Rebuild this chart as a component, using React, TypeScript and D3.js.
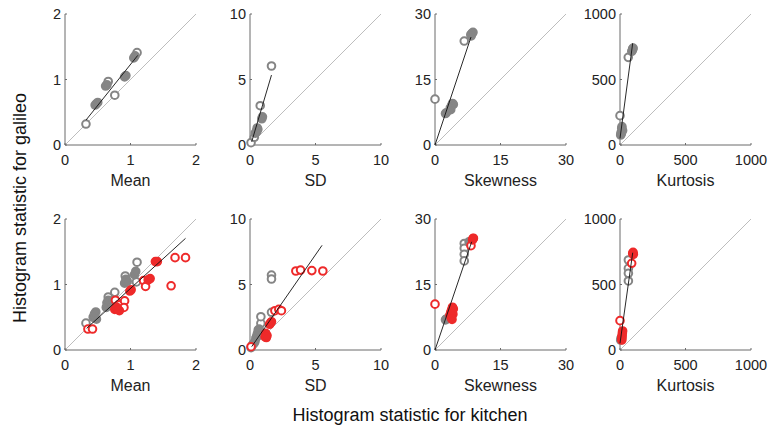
import React from "react";
import * as d3 from "d3";

// statistic names, axis maxima and ticks
const statNames = ["Mean", "SD", "Skewness", "Kurtosis"];
const maxima = [2, 10, 30, 1000];
const tickVals = [
  [0, 1, 2],
  [0, 5, 10],
  [0, 15, 30],
  [0, 500, 1000],
];

// points: [kitchen value, galileo value, filled (1) or open (0)]
type Pt = [number, number, number];

const topGray: Pt[][] = [
  [
    [0.32, 0.32, 0], [0.66, 0.97, 0], [0.76, 0.76, 0], [1.1, 1.41, 0],
    [0.46, 0.61, 1], [0.48, 0.63, 1], [0.5, 0.65, 1], [0.62, 0.9, 1], [0.64, 0.92, 1],
    [0.91, 1.04, 1], [0.93, 1.06, 1], [1.05, 1.33, 1], [1.07, 1.36, 1],
  ],
  [
    [0.08, 0.18, 0], [0.33, 0.59, 0], [0.78, 3.0, 0], [1.64, 6.03, 0],
    [0.4, 0.9, 1], [0.5, 1.1, 1], [0.55, 1.3, 1], [0.6, 1.2, 1], [0.9, 2.0, 1],
    [0.95, 2.15, 1], [0.5, 1.0, 1],
  ],
  [
    [0, 10.5, 0], [6.7, 23.8, 0],
    [2.4, 7.2, 1], [2.6, 7.4, 1], [3.5, 8.5, 1], [3.8, 9.0, 1], [4.0, 9.5, 1], [4.2, 9.3, 1],
    [3.6, 8.1, 1], [8.2, 25.3, 1], [8.5, 25.6, 1], [8.7, 25.8, 1], [8.3, 25.0, 1],
  ],
  [
    [0, 224, 0], [63, 669, 0],
    [5, 76, 1], [8, 95, 1], [13, 127, 1], [15, 140, 1], [20, 110, 1], [10, 85, 1],
    [90, 715, 1], [97, 733, 1], [100, 740, 1], [95, 725, 1],
  ],
];

const bottomGray: Pt[][] = [
  [
    [0.32, 0.41, 0], [0.66, 0.81, 0], [0.76, 0.88, 0], [0.92, 1.13, 0], [1.09, 1.04, 0], [1.1, 1.34, 0],
    [0.43, 0.5, 1], [0.45, 0.55, 1], [0.47, 0.58, 1], [0.48, 0.47, 1], [0.63, 0.65, 1],
    [0.64, 0.72, 1], [0.66, 0.76, 1], [0.7, 0.74, 1], [0.91, 1.02, 1], [0.93, 1.08, 1],
    [0.95, 1.05, 1], [1.06, 1.15, 1], [1.08, 1.2, 1],
  ],
  [
    [0.08, 0.18, 0], [0.5, 1.0, 0], [0.63, 1.53, 0], [0.83, 2.04, 0], [0.83, 2.54, 0],
    [1.64, 5.72, 0], [1.64, 5.42, 0], [1.64, 2.88, 0],
    [0.38, 0.64, 1], [0.3, 0.5, 1], [0.45, 0.9, 1], [0.55, 1.2, 1], [0.6, 1.3, 1],
    [0.7, 1.6, 1], [0.2, 0.4, 1],
  ],
  [
    [6.7, 24.4, 0], [6.7, 23.3, 0], [6.7, 21.9, 0], [6.7, 20.4, 0],
    [2.4, 6.9, 1], [2.6, 7.1, 1], [7.8, 24.8, 1],
  ],
  [
    [64, 687, 0], [64, 623, 0], [64, 585, 0], [64, 527, 0],
    [5, 76, 1], [8, 90, 1],
  ],
];

const bottomRed: Pt[][] = [
  [
    [0.35, 0.32, 0], [0.42, 0.32, 0], [0.77, 0.76, 0], [0.82, 0.69, 0], [0.91, 0.75, 0],
    [0.9, 0.65, 0], [1.2, 1.06, 0], [1.23, 0.97, 0], [1.62, 0.98, 0], [1.68, 1.41, 0], [1.84, 1.41, 0],
    [0.76, 0.62, 1], [0.78, 0.66, 1], [0.83, 0.6, 1], [0.8, 0.64, 1], [1.01, 0.92, 1],
    [0.99, 0.9, 1], [1.27, 1.07, 1], [1.3, 1.09, 1], [1.38, 1.35, 1], [1.41, 1.35, 1],
  ],
  [
    [0.08, 0.25, 0], [1.9, 3.0, 0], [2.2, 3.1, 0], [2.4, 3.0, 0], [3.5, 6.03, 0],
    [3.86, 6.1, 0], [4.72, 6.06, 0], [5.56, 6.03, 0],
    [1.15, 1.0, 1], [1.2, 1.27, 1], [1.3, 1.1, 1], [1.5, 1.96, 1], [1.64, 2.16, 1],
    [1.55, 2.05, 1], [1.25, 0.95, 1],
  ],
  [
    [0, 10.5, 0], [8.24, 23.9, 0], [8.7, 25.5, 0],
    [3.4, 8.0, 1], [3.6, 8.6, 1], [3.8, 9.2, 1], [4.0, 9.8, 1], [4.2, 9.4, 1],
    [3.7, 7.4, 1], [4.1, 8.2, 1], [3.9, 7.0, 1], [8.6, 25.2, 1], [8.8, 25.6, 1],
  ],
  [
    [0, 224, 0], [89, 662, 0], [100, 745, 0],
    [13, 85, 1], [15, 100, 1], [18, 130, 1], [20, 145, 1], [16, 110, 1], [14, 76, 1],
    [97, 738, 1], [102, 730, 1],
  ],
];

// fit lines: [x start, x end, slope, intercept]
const topFits = [
  [0.32, 1.11, 1.25, -0.02],
  [0.13, 1.64, 3.37, -0.19],
  [0, 8.24, 3.0, 0],
  [0, 97, 7.5, 50],
];
const bottomFits = [
  [0.33, 1.84, 0.91, 0.03],
  [0.13, 5.5, 1.44, 0.07],
  [0, 8.4, 2.95, 0],
  [0, 97, 7.13, 51],
];

const W = 773;
const H = 433;
const panelLeft = [65, 250, 435, 620];
const panelSize = 131;
const rowBottom = [145, 350];
const GRAY = "#858585";
const RED = "#ee2a2a";
const FONT = "'Liberation Sans', Arial, Helvetica, sans-serif";

const Panel = ({ col, row, groups, fit }: { col: number; row: number; groups: { pts: Pt[]; color: string }[]; fit: number[] }) => {
  const max = maxima[col];
  const x0 = panelLeft[col];
  const y0 = rowBottom[row];
  const x = d3.scaleLinear().domain([0, max]).range([x0, x0 + panelSize]);
  const y = d3.scaleLinear().domain([0, max]).range([y0, y0 - panelSize]);
  const ticks = tickVals[col];
  const fitLine = d3.line<number>().x((v) => x(v)).y((v) => y(fit[2] * v + fit[3]));
  return (
    <g>
      <line x1={x(0)} y1={y(0)} x2={x(max)} y2={y(max)} stroke="#bdbdbd" strokeWidth={1} />
      <line x1={x(0)} y1={y(0)} x2={x(max)} y2={y(0)} stroke="#6b6b6b" strokeWidth={1} />
      <line x1={x(0)} y1={y(0)} x2={x(0)} y2={y(max)} stroke="#6b6b6b" strokeWidth={1} />
      {ticks.map((t) => (
        <g key={"t" + t}>
          <line x1={x(t)} x2={x(t)} y1={y(0)} y2={y(0) - 2} stroke="#6b6b6b" />
          <line x1={x(0)} x2={x(0) + 2} y1={y(t)} y2={y(t)} stroke="#6b6b6b" />
          <text x={x(t)} y={y(0) + 20} textAnchor="middle" fontSize={14.5} fill="#222" fontFamily={FONT}>
            {t}
          </text>
          <text x={x(0) - 4} y={y(t) + 5} textAnchor="end" fontSize={14.5} fill="#222" fontFamily={FONT}>
            {t}
          </text>
        </g>
      ))}
      <text x={x0 + panelSize / 2} y={y0 + 41} textAnchor="middle" fontSize={16} fill="#222" fontFamily={FONT}>
        {statNames[col]}
      </text>
      {groups.map((g, gi) =>
        g.pts.map((p, i) => (
          <circle
            key={gi + "-" + i}
            cx={x(p[0])}
            cy={y(p[1])}
            r={3.8}
            fill={p[2] ? g.color : "#fff"}
            stroke={g.color}
            strokeWidth={2}
          />
        ))
      )}
      <path d={fitLine([fit[0], fit[1]]) || ""} stroke="#111" strokeWidth={0.9} fill="none" />
    </g>
  );
};

export default function App() {
  return (
    <svg width={W} height={H} style={{ display: "block", position: "absolute", left: 0, top: 0 }}>
      <rect width={W} height={H} fill="#fff" />
      {statNames.map((_, c) => (
        <Panel key={"top" + c} col={c} row={0} groups={[{ pts: topGray[c], color: GRAY }]} fit={topFits[c]} />
      ))}
      {statNames.map((_, c) => (
        <Panel
          key={"bot" + c}
          col={c}
          row={1}
          groups={[
            { pts: bottomGray[c], color: GRAY },
            { pts: bottomRed[c], color: RED },
          ]}
          fit={bottomFits[c]}
        />
      ))}
      <text
        transform="translate(26,208) rotate(-90)"
        textAnchor="middle"
        fontSize={18}
        fill="#111"
        fontFamily={FONT}
      >
        Histogram statistic for galileo
      </text>
      <text x={410} y={421} textAnchor="middle" fontSize={18} fill="#111" fontFamily={FONT}>
        Histogram statistic for kitchen
      </text>
    </svg>
  );
}
